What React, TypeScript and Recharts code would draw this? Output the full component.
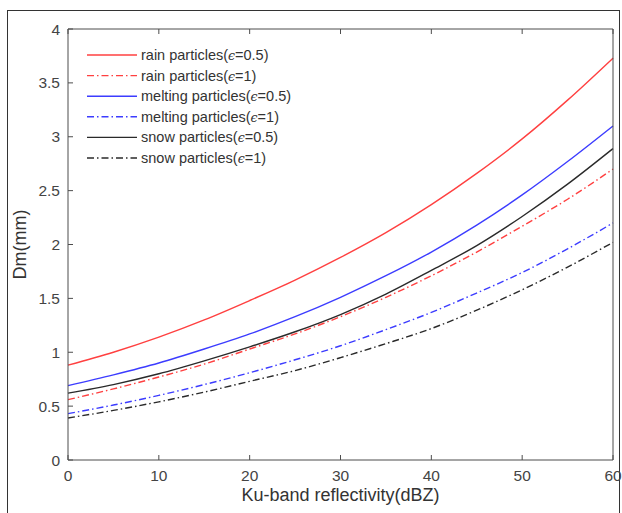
import React from 'react';
import { LineChart, Line, XAxis, YAxis } from 'recharts';

const dbz = [0, 5, 10, 15, 20, 25, 30, 35, 40, 45, 50, 55, 60];
const rainHalf = [0.88, 1.0, 1.14, 1.3, 1.48, 1.67, 1.88, 2.11, 2.37, 2.66, 2.98, 3.34, 3.73];
const rainOne = [0.56, 0.66, 0.77, 0.89, 1.03, 1.17, 1.33, 1.51, 1.71, 1.93, 2.17, 2.42, 2.7];
const meltHalf = [0.69, 0.79, 0.9, 1.03, 1.17, 1.33, 1.51, 1.71, 1.93, 2.18, 2.46, 2.77, 3.1];
const meltOne = [0.43, 0.51, 0.6, 0.7, 0.81, 0.93, 1.06, 1.21, 1.37, 1.55, 1.74, 1.96, 2.2];
const snowHalf = [0.62, 0.7, 0.8, 0.92, 1.05, 1.19, 1.35, 1.54, 1.76, 1.99, 2.26, 2.56, 2.89];
const snowOne = [0.39, 0.46, 0.54, 0.63, 0.73, 0.83, 0.95, 1.08, 1.22, 1.39, 1.58, 1.79, 2.02];

const xTicks = [0, 10, 20, 30, 40, 50, 60];
const yTicks = [0, 0.5, 1, 1.5, 2, 2.5, 3, 3.5, 4];

const seriesNames = [
  'rain particles(\u03F5=0.5)',
  'rain particles(\u03F5=1)',
  'melting particles(\u03F5=0.5)',
  'melting particles(\u03F5=1)',
  'snow particles(\u03F5=0.5)',
  'snow particles(\u03F5=1)',
];

const data = dbz.map((z, i) => ({
  z,
  rainHalf: rainHalf[i],
  rainOne: rainOne[i],
  meltHalf: meltHalf[i],
  meltOne: meltOne[i],
  snowHalf: snowHalf[i],
  snowOne: snowOne[i],
}));

const RED = '#ff4040';
const BLUE = '#3c3cff';
const BLACK = '#2a2a2a';
const DASHDOT = '7 3 1.5 3';

const series = [
  { key: 'rainHalf', color: RED, dash: undefined },
  { key: 'rainOne', color: RED, dash: DASHDOT },
  { key: 'meltHalf', color: BLUE, dash: undefined },
  { key: 'meltOne', color: BLUE, dash: DASHDOT },
  { key: 'snowHalf', color: BLACK, dash: undefined },
  { key: 'snowOne', color: BLACK, dash: DASHDOT },
];

const FONT = '"Liberation Sans", Arial, sans-serif';
const AX = '#4d4d4d';

const renderLabel = (name: string) => {
  const idx = name.indexOf('\u03F5');
  return (
    <>
      {name.slice(0, idx)}
      <tspan fontStyle="italic" fontFamily='"DejaVu Serif", serif' fontSize={12.5}>{'\u03F5'}</tspan>
      {name.slice(idx + 1)}
    </>
  );
};

const LegendBox = () => (
  <svg width={240} height={130} style={{ position: 'absolute', left: 87, top: 49, overflow: 'visible' }}>
    {series.map((s, i) => (
      <g key={s.key}>
        <line x1={0} x2={50} y1={6 + i * 20.6} y2={6 + i * 20.6} stroke={s.color} strokeWidth={1.4} strokeDasharray={s.dash} />
        <text x={54} y={6 + i * 20.6} dy="0.35em" fontSize={14.5} fill="#333" fontFamily={FONT}>
          {renderLabel(seriesNames[i])}
        </text>
      </g>
    ))}
  </svg>
);

export default function App() {
  return (
    <div style={{ position: 'absolute', left: 0, top: 0, width: 622, height: 513, background: '#fff', overflow: 'hidden' }}>
      <div style={{ position: 'absolute', left: 7, top: 10, width: 613, height: 520, border: '1px solid #333', boxSizing: 'border-box' }} />
      <div style={{ position: 'absolute', left: 0, top: 0 }}>
        <LineChart width={622} height={513} data={data} margin={{ top: 28, right: 8, bottom: 0, left: 0 }}>
          <XAxis
            dataKey="z"
            type="number"
            domain={[0, 60]}
            ticks={xTicks}
            height={53}
            tickSize={-5}
            tickMargin={15}
            stroke={AX}
            tick={{ fill: '#444', fontSize: 15.5, fontFamily: FONT }}
            label={{ value: 'Ku-band reflectivity(dBZ)', position: 'insideBottom', offset: 12, fill: '#333', fontSize: 18, fontFamily: FONT }}
          />
          <XAxis
            xAxisId="top"
            orientation="top"
            dataKey="z"
            type="number"
            domain={[0, 60]}
            ticks={xTicks}
            height={1}
            tickSize={-5}
            stroke={AX}
            tickFormatter={() => ''}
          />
          <YAxis
            type="number"
            domain={[0, 4]}
            ticks={yTicks}
            width={68}
            tickSize={-5}
            tickMargin={13}
            stroke={AX}
            tick={{ fill: '#444', fontSize: 15.5, fontFamily: FONT }}
            label={{ value: 'Dm(mm)', angle: -90, position: 'insideLeft', offset: 20, fill: '#333', fontSize: 18, fontFamily: FONT, style: { textAnchor: 'middle' } }}
          />
          <YAxis
            yAxisId="right"
            orientation="right"
            type="number"
            domain={[0, 4]}
            ticks={yTicks}
            width={1}
            tickSize={-5}
            stroke={AX}
            tickFormatter={() => ''}
          />
          {series.map((s) => (
            <Line
              key={s.key}
              dataKey={s.key}
              type="monotone"
              stroke={s.color}
              strokeWidth={1.4}
              strokeDasharray={s.dash}
              dot={false}
              activeDot={false}
              isAnimationActive={false}
            />
          ))}
        </LineChart>
      </div>
      <LegendBox />
    </div>
  );
}
